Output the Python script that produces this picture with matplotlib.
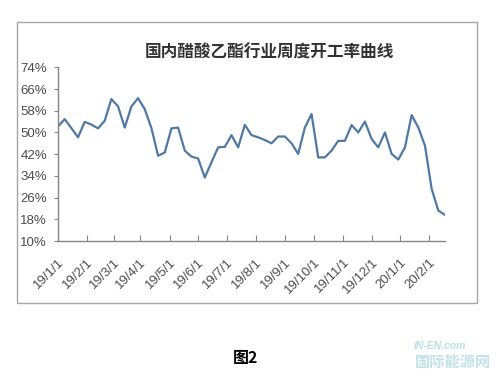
import matplotlib
matplotlib.use('Agg')
from matplotlib import pyplot as plt
from matplotlib.patches import Rectangle

plt.rcParams['font.family'] = ['Liberation Sans', 'Noto Sans CJK SC', 'DejaVu Sans']

# weekly operating rate (%)
rate = [52.2, 54.9, 51.6, 48.2, 53.9, 52.9, 51.5, 54.3, 62.3, 59.6,
        51.8, 59.6, 62.6, 58.6, 51.6, 41.4, 42.6, 51.5, 51.8, 43.3,
        41.1, 40.4, 33.4, 39.0, 44.5, 44.7, 49.0, 44.5, 52.8, 49.0,
        48.2, 47.2, 46.0, 48.5, 48.5, 46.0, 42.1, 51.8, 56.8, 40.8,
        40.8, 43.3, 46.9, 46.9, 52.7, 50.0, 54.0, 47.6, 44.5, 50.0,
        42.1, 40.0, 44.5, 56.4, 51.8, 45.1, 29.2, 21.2, 19.6]

month_labels = ['19/1/1', '19/2/1', '19/3/1', '19/4/1', '19/5/1', '19/6/1',
                '19/7/1', '19/8/1', '19/9/1', '19/10/1', '19/11/1',
                '19/12/1', '20/1/1', '20/2/1']
# where each month starts, in weeks from the first point
month_pos = [0, 4.35, 8.35, 12.25, 16.75, 21.0, 25.35, 29.65, 34.0,
             38.4, 42.75, 47.0, 51.25, 55.65]

y_ticks = [10, 18, 26, 34, 42, 50, 58, 66, 74]

fig = plt.figure(figsize=(5.01, 3.76), dpi=100)
fig.patch.set_facecolor('white')

# outer chart frame
fig.patches.append(Rectangle((17/501, 1-303/376), 460/501, 281/376,
                             transform=fig.transFigure, fill=False,
                             edgecolor='#a6a6a6', linewidth=1.0))

ax = fig.add_axes([58/501, 1-241/376, 387/501, (241-67.3)/376])
ax.plot(range(len(rate)), rate, color='#5079a3', linewidth=1.6)

ax.set_xlim(0, 58)
ax.set_ylim(10, 74)
ax.set_yticks(y_ticks)
ax.set_yticklabels([str(v) + '%' for v in y_ticks])
ax.set_xticks(month_pos)
ax.set_xticklabels(month_labels, rotation=45, ha='right',
                   rotation_mode='anchor')

for s in ['top', 'right']:
    ax.spines[s].set_visible(False)
for s in ['left', 'bottom']:
    ax.spines[s].set_color('#868686')
    ax.spines[s].set_linewidth(1.0)

ax.tick_params(axis='y', direction='out', length=3, color='#868686',
               labelsize=9.5, labelcolor='#4d4d4d', pad=5)
ax.tick_params(axis='x', direction='in', length=4, color='#868686',
               labelsize=9.5, labelcolor='#4d4d4d', pad=11)

fig.text(269/501, 1-53/376, '国内醋酸乙酯行业周度开工率曲线',
         family=['Noto Sans CJK SC', 'DejaVu Sans'], fontsize=12,
         fontweight='bold', color='#333333', ha='center', va='center')

fig.text(246/501, 1-358/376, '图2', family=['Noto Sans CJK SC', 'DejaVu Sans'],
         fontsize=11.5, fontweight='bold', color='black',
         ha='center', va='center')

# site watermark
fig.text(440/501, 1-346/376, 'IN-EN.com', fontsize=7.5, fontweight='bold',
         color='#b9dfe6', ha='center', va='center', style='italic')
fig.text(453/501, 1-362/376, '国际能源网', family=['Noto Sans CJK SC', 'DejaVu Sans'],
         fontsize=11, fontweight='bold', color='#c3e3ea',
         ha='center', va='center')

plt.savefig('out.png', dpi=100)
